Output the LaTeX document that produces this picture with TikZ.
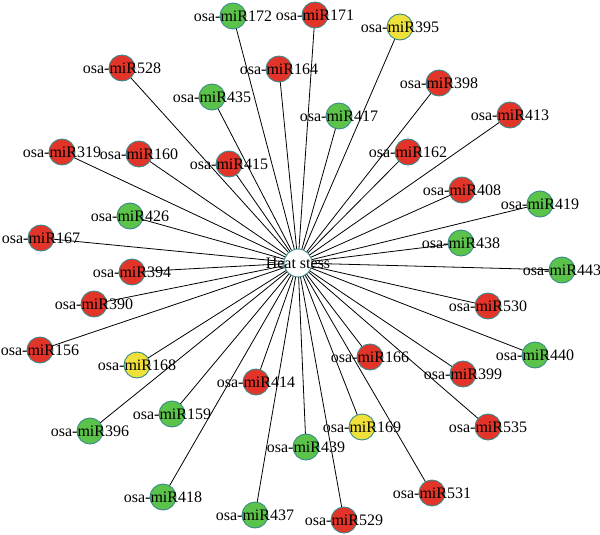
\documentclass[tikz,border=0pt]{standalone}
\usepackage{fontspec}
\setmainfont{Liberation Serif}
\pgfdeclarelayer{bg}
\pgfsetlayers{bg,main}
\definecolor{nred}{HTML}{E3342A}
\definecolor{ngreen}{HTML}{5CC34A}
\definecolor{nyellow}{HTML}{F0E13A}
\definecolor{nborder}{HTML}{3A8A8C}
\tikzset{
  mirna/.style={circle, draw=nborder, line width=0.9pt, minimum size=26pt, inner sep=0pt},
  hub/.style={circle, draw=nborder, fill=white, line width=0.9pt, minimum size=28pt, inner sep=0pt},
  lbl/.style={font=\fontsize{16}{17}\selectfont, inner sep=0pt, text=black},
  edge/.style={draw=black, line width=0.8pt}
}
\begin{document}
\begin{tikzpicture}[x=1pt,y=-1pt]
\useasboundingbox (0,0) rectangle (600,535);
\node[hub] (hub) at (298,263) {};
\foreach \n/\x/\y/\c in {
  172/233/16/ngreen, 171/315/15/nred, 395/400/27/nyellow, 528/122/68/nred,
  164/279/69/nred, 435/212/97/ngreen, 398/439/83/nred, 417/339/116/ngreen,
  413/510/115/nred, 319/62/152/nred, 160/139/154/nred, 415/229/164/nred,
  162/408/152/nred, 408/462/190/nred, 419/540/204/ngreen, 426/130/216/ngreen,
  438/461/243/ngreen, 167/41/238/nred, 394/132/272/nred, 443/562/270/ngreen,
  390/94/304/nred, 530/488/306/nred, 156/40/350/nred, 168/137/365/nyellow,
  166/370/357/nred, 440/535/355/ngreen, 399/463/374/nred, 414/256/382/nred,
  159/172/414/ngreen, 396/90/431/ngreen, 169/362/427/nyellow, 535/488/427/nred,
  439/306/447/ngreen, 418/163/497/ngreen, 437/255/515/ngreen, 531/432/493/nred,
  529/344/520/nred}{
  \node[mirna, fill=\c] (m\n) at (\x,\y) {};
  \begin{pgfonlayer}{bg}
    \draw[edge] (hub.center) -- (m\n.center);
  \end{pgfonlayer}
}
\foreach \n in {172,171,395,528,164,435,398,417,413,319,160,415,162,408,419,426,
  438,167,394,443,390,530,156,168,166,440,399,414,159,396,169,535,439,418,437,531,529}{
  \node[lbl] (l\n) at (m\n) {osa-miR\n};
}
\node[lbl] (lhub) at (hub) {Heat stess};
\end{tikzpicture}
\end{document}
